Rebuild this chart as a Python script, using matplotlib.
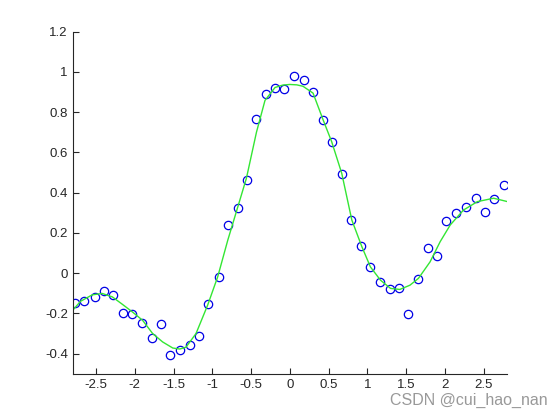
import numpy as np
import matplotlib.pyplot as plt

plt.rcParams['font.family'] = ['Liberation Sans', 'DejaVu Sans']
plt.rcParams['axes.unicode_minus'] = False

# измеренные точки
x_pts = [-2.77, -2.65, -2.52, -2.40, -2.28, -2.15, -2.03, -1.91, -1.78, -1.66,
         -1.54, -1.42, -1.29, -1.17, -1.05, -0.92, -0.80, -0.67, -0.55, -0.43,
         -0.31, -0.19, -0.07, 0.06, 0.18, 0.30, 0.43, 0.55, 0.67, 0.79,
         0.92, 1.04, 1.16, 1.29, 1.41, 1.53, 1.65, 1.78, 1.90, 2.02,
         2.15, 2.27, 2.40, 2.52, 2.64, 2.76]
y_pts = [-0.146, -0.136, -0.118, -0.088, -0.109, -0.197, -0.201, -0.250, -0.320, -0.252,
         -0.405, -0.383, -0.358, -0.310, -0.153, -0.018, 0.237, 0.324, 0.464, 0.765,
         0.889, 0.919, 0.915, 0.981, 0.960, 0.902, 0.758, 0.650, 0.494, 0.262,
         0.134, 0.030, -0.043, -0.081, -0.075, -0.204, -0.028, 0.126, 0.086, 0.260,
         0.297, 0.330, 0.375, 0.302, 0.370, 0.439]

# аппроксимирующая кривая
x_fit = [-2.82, -2.70, -2.55, -2.42, -2.29, -2.16, -2.03, -1.90, -1.77, -1.64,
         -1.51, -1.42, -1.34, -1.21, -1.06, -0.93, -0.80, -0.67, -0.56, -0.43,
         -0.32, -0.19, -0.09, 0.00, 0.09, 0.17, 0.30, 0.43, 0.54, 0.67,
         0.80, 0.93, 1.04, 1.17, 1.30, 1.42, 1.55, 1.66, 1.81, 1.94,
         2.07, 2.24, 2.42, 2.63, 2.81]
y_fit = [-0.193, -0.140, -0.108, -0.101, -0.118, -0.155, -0.193, -0.234, -0.300, -0.342,
         -0.372, -0.377, -0.368, -0.300, -0.159, -0.018, 0.164, 0.330, 0.471, 0.700,
         0.858, 0.922, 0.934, 0.937, 0.935, 0.928, 0.894, 0.761, 0.653, 0.496,
         0.264, 0.131, 0.031, -0.035, -0.076, -0.081, -0.060, -0.026, 0.056, 0.156,
         0.239, 0.313, 0.355, 0.372, 0.355]

xticks = [-2.5, -2, -1.5, -1, -0.5, 0, 0.5, 1, 1.5, 2, 2.5]
yticks = [-0.4, -0.2, 0, 0.2, 0.4, 0.6, 0.8, 1, 1.2]

fig = plt.figure(figsize=(5.6, 4.2), dpi=100)
ax = fig.add_axes([0.13, 0.11, 0.775, 0.815])

ax.plot(x_pts, y_pts, 'o', mfc='none', mec=(0, 0, 0.9), ms=6, mew=0.9)
ax.plot(x_fit, y_fit, '-', color=(0.2, 0.9, 0.2), lw=1.0)

ax.set_xlim(-2.8, 2.8)
ax.set_ylim(-0.5, 1.2)
ax.set_xticks(xticks)
ax.set_yticks(yticks)
ax.set_xticklabels(['%g' % v for v in xticks])
ax.set_yticklabels(['%g' % v for v in yticks])

gray = (0.15, 0.15, 0.15)
for s in ['top', 'right']:
    ax.spines[s].set_visible(False)
for s in ['left', 'bottom']:
    ax.spines[s].set_color(gray)
    ax.spines[s].set_linewidth(0.8)
ax.tick_params(direction='in', length=4, width=0.8, colors=gray, labelsize=9.5)

fig.text(0.978, 0.028, "CSDN @cui_hao_nan", ha='right', va='bottom',
         fontsize=11.5, color=(0.6, 0.6, 0.6))

fig.savefig('out.png', dpi=100)
